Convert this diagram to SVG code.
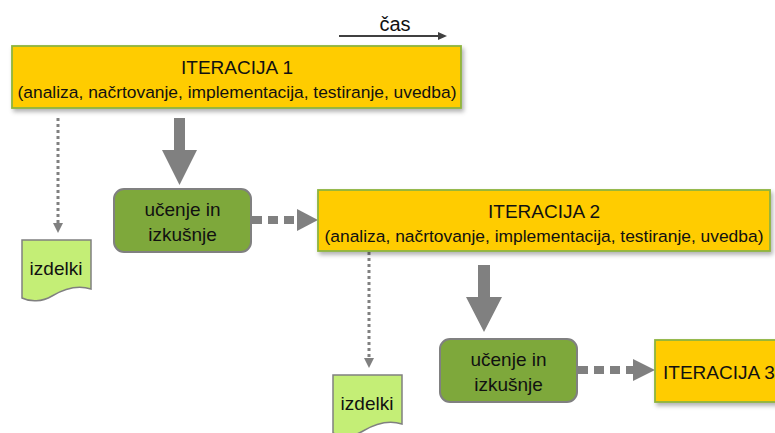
<svg xmlns="http://www.w3.org/2000/svg" width="775" height="433" viewBox="0 0 775 433">
<style>
text{font-family:"Liberation Sans",Arial,sans-serif;fill:#111;text-anchor:middle}
.it{fill:#FFCC00;stroke:#8DB43E;stroke-width:1.8}
.le{fill:#7EA83B;stroke:#808080;stroke-width:2}
.doc{fill:#C4EE76;stroke:#808080;stroke-width:1.5}
.big{font-size:19px}
.sub{font-size:17.4px}
.dot{stroke:#808080;stroke-width:3;stroke-dasharray:3 3;fill:none}
.dash{stroke:#808080;stroke-width:8;stroke-dasharray:10 6;fill:none}
.hd{fill:#808080}
</style>
<defs>
<filter id="sh" x="-10%" y="-20%" width="130%" height="160%">
<feDropShadow dx="2" dy="3" stdDeviation="2" flood-color="#000" flood-opacity="0.3"/>
</filter>
</defs>
<rect width="775" height="433" fill="#fff"/>

<g id="time">
<line x1="339" y1="36" x2="439" y2="36" stroke="#404040" stroke-width="2"/>
<polygon points="447,36 438,32 438,40" fill="#404040"/>
<text x="395" y="31" style="font-size:20px">čas</text>
</g>

<g id="connectors">
<path class="dot" d="M58,118 V224"/>
<polygon class="hd" points="53,223 63,223 58,233"/>
<polygon class="hd" points="174,118 185,118 185,150 197,150 179.5,185 162,150 174,150"/>
<path class="dash" d="M252,220 H297"/>
<polygon class="hd" points="297,209 297,231 318,220"/>
<path class="dot" d="M369,252 V359"/>
<polygon class="hd" points="364,358 374,358 369,368"/>
<polygon class="hd" points="478,265 490,265 490,297 502,297 484,332 466,297 478,297"/>
<path class="dash" d="M578,370 H633"/>
<polygon class="hd" points="633,359 633,381 655,370"/>
</g>

<g id="iteracija1">
<rect class="it" x="12" y="46" width="449" height="62" filter="url(#sh)"/>
<text class="big" x="237" y="74">ITERACIJA 1</text>
<text class="sub" x="237" y="98">(analiza, načrtovanje, implementacija, testiranje, uvedba)</text>
</g>

<g id="izdelki1">
<path class="doc" d="M22,240 H91 V289 C75,284 62,290 52,296 C42,302 30,302 22,298 Z"/>
<text class="big" x="56" y="275">izdelki</text>
</g>

<g id="ucenje1">
<rect class="le" x="114" y="189" width="137" height="63" rx="10"/>
<text class="big" x="182.5" y="216">učenje in</text>
<text class="big" x="182.5" y="241">izkušnje</text>
</g>

<g id="iteracija2">
<rect class="it" x="318" y="190" width="452" height="61" filter="url(#sh)"/>
<text class="big" x="544" y="218">ITERACIJA 2</text>
<text class="sub" x="544" y="242">(analiza, načrtovanje, implementacija, testiranje, uvedba)</text>
</g>

<g id="izdelki2">
<path class="doc" d="M333,375 H402 V424 C386,419 373,425 363,431 C353,437 341,437 333,433 Z"/>
<text class="big" x="367" y="410">izdelki</text>
</g>

<g id="ucenje2">
<rect class="le" x="440" y="339" width="137" height="63" rx="10"/>
<text class="big" x="508.5" y="366">učenje in</text>
<text class="big" x="508.5" y="391">izkušnje</text>
</g>

<g id="iteracija3">
<rect class="it" x="655" y="340" width="130" height="62" filter="url(#sh)"/>
<text class="big" x="663" y="379" style="text-anchor:start">ITERACIJA 3</text>
</g>
</svg>
